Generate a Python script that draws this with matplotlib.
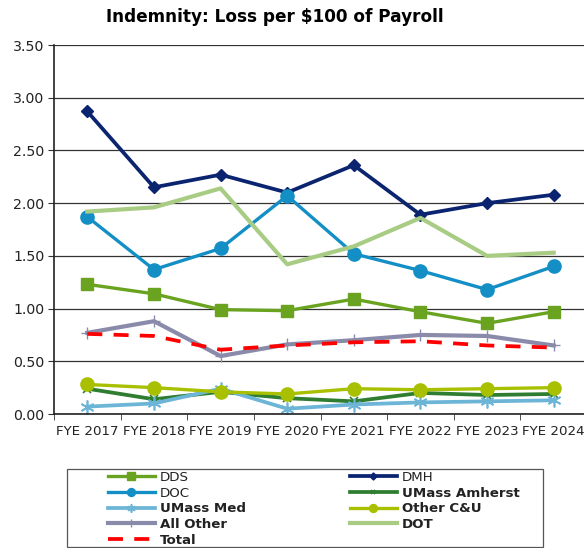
import matplotlib
matplotlib.use("Agg")
import matplotlib.pyplot as plt
from matplotlib.patches import Rectangle
from matplotlib.ticker import MultipleLocator, FormatStrFormatter

years = ["FYE 2017", "FYE 2018", "FYE 2019", "FYE 2020",
         "FYE 2021", "FYE 2022", "FYE 2023", "FYE 2024"]

dds = [1.23, 1.14, 0.99, 0.98, 1.09, 0.97, 0.86, 0.97]
dmh = [2.87, 2.15, 2.27, 2.10, 2.36, 1.89, 2.00, 2.08]
doc = [1.87, 1.37, 1.57, 2.07, 1.52, 1.36, 1.18, 1.40]
umass_amherst = [0.24, 0.14, 0.21, 0.15, 0.12, 0.20, 0.18, 0.19]
umass_med = [0.07, 0.10, 0.24, 0.05, 0.09, 0.11, 0.12, 0.13]
other_cu = [0.28, 0.25, 0.21, 0.19, 0.24, 0.23, 0.24, 0.25]
all_other = [0.77, 0.88, 0.55, 0.66, 0.70, 0.75, 0.74, 0.65]
dot = [1.92, 1.96, 2.14, 1.42, 1.59, 1.86, 1.50, 1.53]
total = [0.76, 0.74, 0.61, 0.65, 0.68, 0.69, 0.65, 0.63]

W, H = 584, 548
fig = plt.figure(figsize=(W / 100, H / 100), dpi=100)
ax = fig.add_axes([54 / W, 1 - 414 / H, 533 / W, 369 / H])

x = list(range(len(years)))
lines = {}
lines["DDS"] = ax.plot(x, dds, color="#6aa31f", lw=2.4, marker="s", ms=8.5)[0]
lines["DMH"] = ax.plot(x, dmh, color="#0b2470", lw=2.7, marker="D", ms=6)[0]
lines["DOC"] = ax.plot(x, doc, color="#138fc6", lw=2.4, marker="o", ms=9.5)[0]
lines["UMass Amherst"] = ax.plot(x, umass_amherst, color="#2f7d30", lw=2.7,
                                 marker="x", ms=6, mew=1.2)[0]
lines["UMass Med"] = ax.plot(x, umass_med, color="#6db5d6", lw=2.7,
                             marker=(6, 2, 0), ms=10, mew=1.2)[0]
lines["Other C&U"] = ax.plot(x, other_cu, color="#a8c000", lw=2.4, marker="o", ms=9.5)[0]
lines["All Other"] = ax.plot(x, all_other, color="#8a8aaa", lw=3, marker="+", ms=9, mew=1)[0]
lines["DOT"] = ax.plot(x, dot, color="#a8cc84", lw=3)[0]
lines["Total"] = ax.plot(x, total, color="#ff0000", lw=2.7, ls=(0, (4, 3)))[0]

ax.set_xlim(-0.5, len(years) - 0.5)
ax.set_ylim(0, 3.5)
ax.yaxis.set_major_locator(MultipleLocator(0.5))
ax.yaxis.set_major_formatter(FormatStrFormatter("%.2f"))
ax.grid(axis="y", color="#333333", lw=0.9)
ax.set_axisbelow(True)

ax.set_xticks(x)
ax.set_xticklabels(years)
ax.set_xticks([i - 0.5 for i in range(len(years) + 1)], minor=True)
ax.tick_params(axis="x", which="major", length=0, pad=8, labelsize=9.6, colors="#222222")
ax.tick_params(axis="x", which="minor", length=4, color="#333333")
ax.tick_params(axis="y", length=4, labelsize=10.2, colors="#222222", pad=3)
ax.tick_params(axis="y", color="#333333")

for s in ["top", "right"]:
    ax.spines[s].set_visible(False)
ax.spines["left"].set_color("#222222")
ax.spines["bottom"].set_color("#222222")
ax.spines["left"].set_linewidth(1.2)
ax.spines["bottom"].set_linewidth(1.2)

fig.text(275 / W, 1 - 17 / H, "Indemnity: Loss per $100 of Payroll",
         ha="center", va="center", fontsize=12.2, fontweight="bold")

# legend, Excel-style: row order DDS, DMH / DOC, UMass Amherst / ...
order = ["DDS", "DOC", "UMass Med", "All Other", "Total",
         "DMH", "UMass Amherst", "Other C&U", "DOT"]
bold = ["UMass Amherst", "UMass Med", "Other C&U", "All Other", "DOT", "Total"]
leg = fig.legend([lines[k] for k in order], order, ncol=2, frameon=False,
                 loc="upper left", bbox_to_anchor=(100 / W, 1 - 463 / H),
                 fontsize=9.6, handlelength=3.5, handletextpad=0.4,
                 columnspacing=7.8, labelspacing=0.2, borderpad=0.1,
                 markerscale=0.6)
for t in leg.get_texts():
    t.set_color("#222222")
    if t.get_text() in bold:
        t.set_fontweight("bold")
fig.patches.append(Rectangle((67 / W, 1 - 547 / H), 476 / W, 78 / H,
                             transform=fig.transFigure, fill=False,
                             edgecolor="#555555", lw=0.9))

fig.savefig("out.png", dpi=100)
